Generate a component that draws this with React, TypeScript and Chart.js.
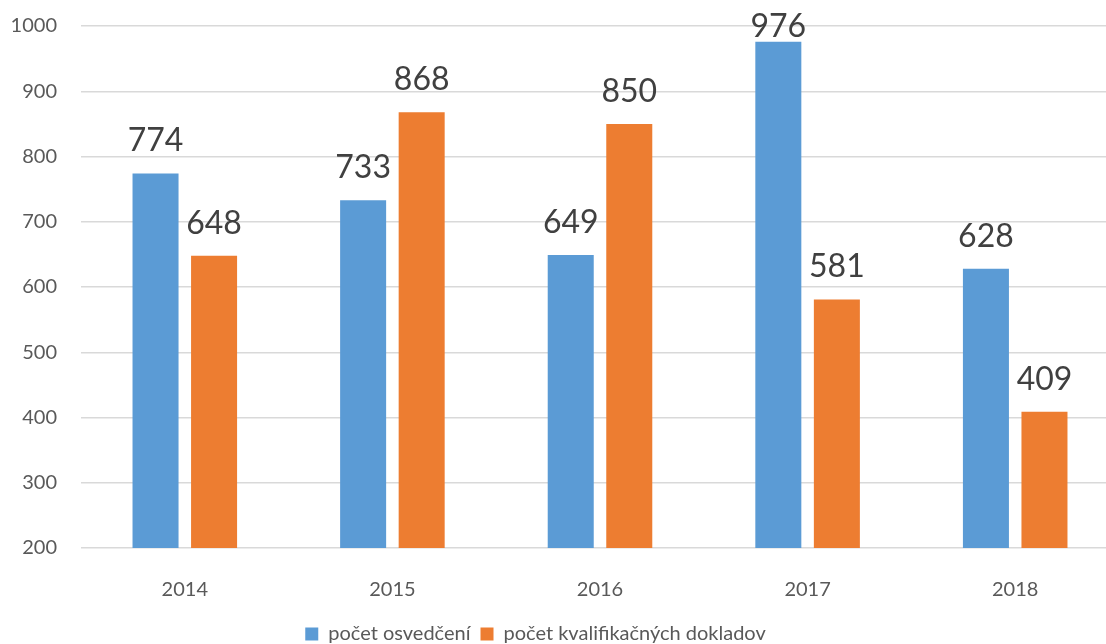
import React, { useEffect, useRef } from "react";
import { Chart, registerables } from "chart.js";

Chart.register(...registerables);

const categories = ["2014", "2015", "2016", "2017", "2018"];
const seriesNames = ["počet osvedčení", "počet kvalifikačných dokladov"];
const osvedcenia = [774, 733, 649, 976, 628];
const doklady = [648, 868, 850, 581, 409];
const yTicks = [200, 300, 400, 500, 600, 700, 800, 900, 1000];

const FONT = "Lato";
const W = 1120;
const H = 669;
const OFFSET_TOP = -10;

const dataLabelPlugin = {
  id: "dataLabels",
  afterDatasetsDraw(chart: any) {
    const ctx = chart.ctx;
    ctx.save();
    ctx.font = `32px ${FONT}`;
    ctx.fillStyle = "#404040";
    ctx.textAlign = "center";
    ctx.textBaseline = "alphabetic";
    const minY = chart.chartArea.top + 11;
    chart.data.datasets.forEach((ds: any, i: number) => {
      const meta = chart.getDatasetMeta(i);
      meta.data.forEach((el: any, j: number) => {
        let y = el.y - 22;
        if (y < minY) y = minY;
        ctx.fillText(String(ds.data[j]), el.x, y);
      });
    });
    ctx.restore();
  },
};

const legendShiftPlugin = {
  id: "legendShift",
  afterLayout(chart: any) {
    const l = chart.legend;
    if (l) {
      l.left -= 24;
      l.right -= 24;
    }
  },
};

export default function App() {
  const ref = useRef<HTMLCanvasElement>(null);

  useEffect(() => {
    document.documentElement.style.overflow = "hidden";
    document.body.style.overflow = "hidden";
    document.body.style.margin = "0";
    const chart = new Chart(ref.current as HTMLCanvasElement, {
      type: "bar",
      data: {
        labels: categories,
        datasets: [
          {
            label: seriesNames[0],
            data: osvedcenia,
            backgroundColor: "#5B9BD5",
            categoryPercentage: 0.564,
            barPercentage: 0.786,
          },
          {
            label: seriesNames[1],
            data: doklady,
            backgroundColor: "#ED7D31",
            categoryPercentage: 0.564,
            barPercentage: 0.786,
          },
        ],
      },
      options: {
        animation: false,
        responsive: false,
        maintainAspectRatio: false,
        layout: { padding: { top: 26, bottom: 5, left: 0, right: 1 } },
        plugins: {
          tooltip: { enabled: false },
          legend: {
            position: "bottom",
            labels: {
              font: { family: FONT, size: 20 },
              color: "#595959",
              boxWidth: 13,
              boxHeight: 13,
              padding: 10,
            },
          },
        },
        scales: {
          x: {
            grid: { display: false },
            border: { display: false },
            ticks: {
              font: { family: FONT, size: 20 },
              color: "#595959",
              padding: 22,
            },
            afterFit(s: any) {
              s.height = 66;
            },
          },
          y: {
            min: 200,
            max: 1000,
            afterBuildTicks(s: any) {
              s.ticks = yTicks.map((v) => ({ value: v }));
            },
            grid: { color: "#d9d9d9", lineWidth: 1.5, drawTicks: false },
            border: { display: false },
            ticks: {
              font: { family: FONT, size: 20 },
              color: "#595959",
              padding: 24,
              callback: (v: any) => String(v),
            },
            afterFit(s: any) {
              s.width = 81;
            },
          },
        },
      },
      plugins: [dataLabelPlugin, legendShiftPlugin],
    });
    return () => chart.destroy();
  }, []);

  return (
    <div style={{ position: "absolute", left: 0, top: OFFSET_TOP, width: W, height: H }}>
      <canvas ref={ref} width={W} height={H} style={{ width: W, height: H, display: "block" }} />
    </div>
  );
}
